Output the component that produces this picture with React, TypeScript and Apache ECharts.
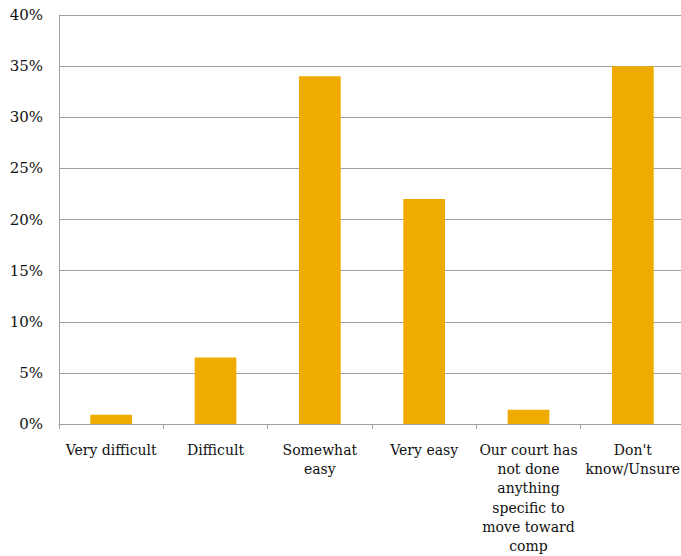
import React, { useEffect, useRef } from "react";
import * as echarts from "echarts";

const categories = [
  "Very difficult",
  "Difficult",
  "Somewhat easy",
  "Very easy",
  "Our court has not done anything specific to move toward comp",
  "Don't know/Unsure",
];
const categoryLabels = [
  "Very difficult",
  "Difficult",
  "Somewhat\neasy",
  "Very easy",
  "Our court has\nnot done\nanything\nspecific to\nmove toward\ncomp",
  "Don't\nknow/Unsure",
];
const values = [0.9, 6.5, 34.0, 22.0, 1.4, 35.0];
const yTicks = [0, 5, 10, 15, 20, 25, 30, 35, 40];

export default function App() {
  const ref = useRef<HTMLDivElement>(null);
  useEffect(() => {
    if (!ref.current) return;
    const chart = echarts.init(ref.current, null, { renderer: "svg" });
    const font = "'DejaVu Serif', serif";
    chart.setOption({
      animation: false,
      grid: { left: 59, right: 0, top: 15, bottom: 132, containLabel: false },
      xAxis: {
        type: "category",
        data: categories,
        axisLine: { show: true, lineStyle: { color: "#a0a0a0", width: 1 } },
        axisTick: { show: true, alignWithLabel: false, length: 5, lineStyle: { color: "#a0a0a0" } },
        axisLabel: {
          interval: 0,
          margin: 16,
          color: "#111",
          fontFamily: font,
          fontSize: 14,
          lineHeight: 19.3,
          formatter: (v: string) => categoryLabels[categories.indexOf(v)],
        },
      },
      yAxis: {
        type: "value",
        min: yTicks[0],
        max: yTicks[yTicks.length - 1],
        interval: 5,
        axisLine: { show: true, lineStyle: { color: "#a0a0a0", width: 1 } },
        axisTick: { show: false },
        splitLine: { show: true, lineStyle: { color: "#a0a0a0", width: 1 } },
        axisLabel: {
          color: "#111",
          fontFamily: font,
          fontSize: 15,
          margin: 16,
          formatter: (v: number) => v + "%",
        },
      },
      series: [
        {
          type: "bar",
          data: values,
          barWidth: "40%",
          itemStyle: { color: "#F0AB00" },
        },
      ],
    });
    return () => chart.dispose();
  }, []);
  return (
    <div
      ref={ref}
      style={{ position: "fixed", left: 0, top: 0, width: 685, height: 556, background: "#fff" }}
    />
  );
}
